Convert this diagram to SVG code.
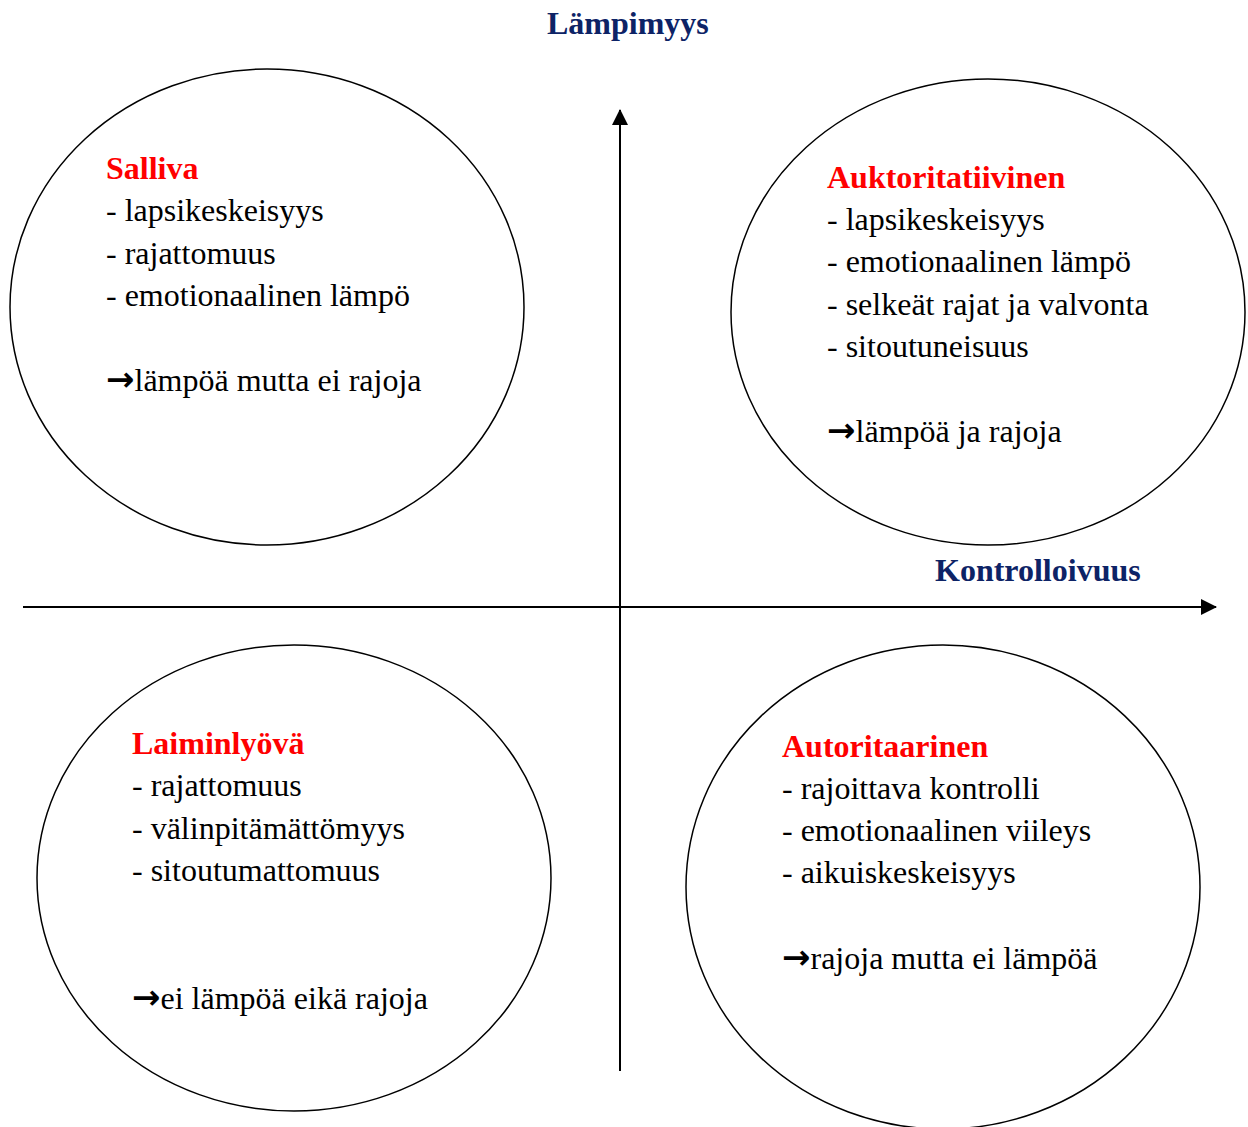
<svg xmlns="http://www.w3.org/2000/svg" width="1248" height="1127" viewBox="0 0 1248 1127">
<style>
text{font-family:"Liberation Serif","Times New Roman",serif;font-size:32px;fill:#000}
.h{font-weight:bold;fill:#ff0000}
.ax{font-weight:bold;fill:#0d2366}
.arr{font-family:"DejaVu Sans",sans-serif;font-weight:bold;font-size:34px}
ellipse{fill:#fff;stroke:#000;stroke-width:1.5}
line{stroke:#000;stroke-width:2}
</style>
<defs>
<marker id="ah" markerWidth="16" markerHeight="16" refX="15" refY="8" orient="auto" markerUnits="userSpaceOnUse" viewBox="0 0 16 16">
<path d="M0,0 L16,8 L0,16 z" fill="#000"/>
</marker>
</defs>
<g id="connectors">
<line x1="620" y1="1071" x2="620" y2="110" marker-end="url(#ah)"/>
<line x1="23" y1="607" x2="1216" y2="607" marker-end="url(#ah)"/>
</g>
<g id="axis-labels">
<text class="ax" x="547" y="34">Lämpimyys</text>
<text class="ax" x="935" y="581">Kontrolloivuus</text>
</g>
<g id="salliva">
<ellipse cx="267" cy="307" rx="257" ry="238"/>
<text class="h" x="106" y="179">Salliva</text>
<text x="106" y="221">- lapsikeskeisyys</text>
<text x="106" y="264">- rajattomuus</text>
<text x="106" y="306">- emotionaalinen lämpö</text>
<text x="106" y="391"><tspan class="arr">→</tspan>lämpöä mutta ei rajoja</text>
</g>
<g id="auktoritatiivinen">
<ellipse cx="988" cy="312" rx="257" ry="233"/>
<text class="h" x="827" y="188">Auktoritatiivinen</text>
<text x="827" y="230">- lapsikeskeisyys</text>
<text x="827" y="272">- emotionaalinen lämpö</text>
<text x="827" y="315">- selkeät rajat ja valvonta</text>
<text x="827" y="357">- sitoutuneisuus</text>
<text x="827" y="442"><tspan class="arr">→</tspan>lämpöä ja rajoja</text>
</g>
<g id="laiminlyova">
<ellipse cx="294" cy="878" rx="257" ry="233"/>
<text class="h" x="132" y="754">Laiminlyövä</text>
<text x="132" y="796">- rajattomuus</text>
<text x="132" y="839">- välinpitämättömyys</text>
<text x="132" y="881">- sitoutumattomuus</text>
<text x="132" y="1009"><tspan class="arr">→</tspan>ei lämpöä eikä rajoja</text>
</g>
<g id="autoritaarinen">
<ellipse cx="943" cy="887" rx="257" ry="242"/>
<text class="h" x="782" y="757">Autoritaarinen</text>
<text x="782" y="799">- rajoittava kontrolli</text>
<text x="782" y="841">- emotionaalinen viileys</text>
<text x="782" y="883">- aikuiskeskeisyys</text>
<text x="782" y="969"><tspan class="arr">→</tspan>rajoja mutta ei lämpöä</text>
</g>
</svg>
